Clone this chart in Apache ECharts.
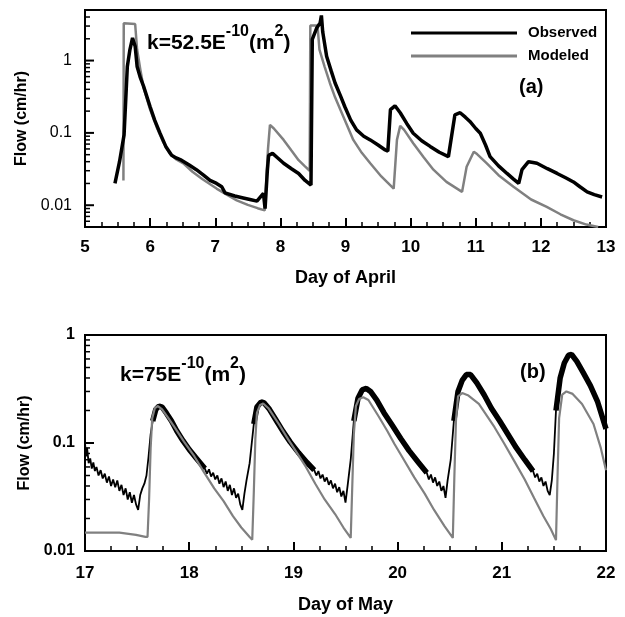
<!DOCTYPE html>
<html>
<head>
<meta charset="utf-8">
<script src="https://cdn.jsdelivr.net/npm/echarts@6/dist/echarts.min.js"></script>
<style>
  html, body { margin: 0; padding: 0; background: #fff; }
  #chart { width: 625px; height: 617px; }
</style>
</head>
<body>
<div id="chart"></div>
<script>
// panel (a): April, [day, flow cm/hr]
var obsA = [
  [5.46, 0.020], [5.53, 0.040], [5.60, 0.094], [5.65, 0.83], [5.69, 1.42], [5.73, 2.05],
  [5.77, 1.58], [5.80, 0.83], [5.85, 0.58], [5.90, 0.44], [6.00, 0.23], [6.07, 0.15],
  [6.15, 0.10], [6.24, 0.065], [6.33, 0.049], [6.40, 0.045], [6.48, 0.042], [6.60, 0.036],
  [6.71, 0.031], [6.82, 0.026], [6.92, 0.022], [7.02, 0.020], [7.10, 0.018], [7.15, 0.0148],
  [7.30, 0.0134], [7.43, 0.0126], [7.55, 0.0119], [7.64, 0.0114], [7.74, 0.0146], [7.765, 0.0090],
  [7.80, 0.030], [7.82, 0.049], [7.88, 0.052], [7.96, 0.045], [8.05, 0.038], [8.17, 0.032],
  [8.28, 0.0275], [8.38, 0.022], [8.47, 0.019], [8.49, 1.96], [8.56, 2.85], [8.61, 3.3],
  [8.63, 4.2], [8.65, 2.5], [8.71, 1.15], [8.78, 0.72], [8.84, 0.49], [8.92, 0.33],
  [8.99, 0.23], [9.08, 0.15], [9.17, 0.11], [9.28, 0.09], [9.38, 0.08], [9.50, 0.068],
  [9.61, 0.058], [9.65, 0.056], [9.69, 0.21], [9.76, 0.237], [9.84, 0.19], [9.94, 0.135],
  [10.04, 0.099], [10.17, 0.078], [10.30, 0.065], [10.44, 0.054], [10.58, 0.047], [10.61, 0.045],
  [10.68, 0.178], [10.76, 0.19], [10.84, 0.165], [10.91, 0.144], [11.00, 0.115], [11.07, 0.099],
  [11.15, 0.068], [11.22, 0.047], [11.35, 0.035], [11.48, 0.0275], [11.58, 0.023], [11.66, 0.020],
  [11.71, 0.031], [11.81, 0.040], [11.88, 0.039], [11.94, 0.038], [12.10, 0.032], [12.25, 0.0275],
  [12.38, 0.024], [12.50, 0.021], [12.60, 0.018], [12.71, 0.0153], [12.82, 0.014], [12.94, 0.013]
];
var modA = [
  [5.59, 0.022], [5.595, 3.27], [5.77, 3.2], [5.80, 1.42], [5.85, 0.75], [5.90, 0.42],
  [6.00, 0.21], [6.10, 0.12], [6.20, 0.075], [6.30, 0.052], [6.40, 0.043], [6.51, 0.038],
  [6.65, 0.029], [6.80, 0.023], [7.02, 0.017], [7.15, 0.0145], [7.33, 0.0117], [7.50, 0.0101],
  [7.65, 0.0091], [7.76, 0.0085], [7.785, 0.0085], [7.81, 0.06], [7.84, 0.129], [7.90, 0.115],
  [8.05, 0.08], [8.17, 0.057], [8.28, 0.042], [8.37, 0.035], [8.45, 0.030], [8.46, 3.06],
  [8.57, 3.06], [8.60, 1.42], [8.68, 0.82], [8.76, 0.49], [8.84, 0.31], [8.92, 0.21],
  [9.02, 0.13], [9.12, 0.08], [9.25, 0.053], [9.38, 0.038], [9.55, 0.025], [9.74, 0.017],
  [9.79, 0.08], [9.84, 0.125], [9.90, 0.11], [10.04, 0.072], [10.20, 0.046], [10.35, 0.031],
  [10.55, 0.021], [10.79, 0.0153], [10.86, 0.034], [10.97, 0.055], [11.02, 0.051], [11.17, 0.038],
  [11.35, 0.026], [11.58, 0.018], [11.85, 0.012], [12.09, 0.0095], [12.30, 0.0075], [12.50, 0.0062],
  [12.70, 0.0054], [12.88, 0.005]
];

// panel (b): May. observed = noisy troughs + thick band over each peak
var troughB0 = [
  [17.00, 0.10], [17.01, 0.075], [17.02, 0.09], [17.035, 0.065], [17.05, 0.072], [17.065, 0.058],
  [17.08, 0.066], [17.095, 0.055], [17.11, 0.06], [17.13, 0.05], [17.15, 0.056], [17.17, 0.047],
  [17.19, 0.052], [17.21, 0.043], [17.23, 0.049], [17.25, 0.04], [17.27, 0.046], [17.29, 0.039],
  [17.31, 0.045], [17.33, 0.036], [17.35, 0.041], [17.37, 0.033], [17.39, 0.038], [17.41, 0.03],
  [17.43, 0.035], [17.45, 0.028], [17.47, 0.033], [17.49, 0.027], [17.51, 0.024], [17.53, 0.033],
  [17.55, 0.038], [17.57, 0.042], [17.59, 0.05], [17.61, 0.075], [17.63, 0.12]
];
var bandB1 = [
  [17.65, 0.16], [17.68, 0.205], [17.71, 0.22], [17.74, 0.215], [17.78, 0.19], [17.83, 0.16],
  [17.88, 0.13], [17.94, 0.105], [18.00, 0.087], [18.07, 0.072], [18.15, 0.058]
];
var troughB1 = [
  [18.17, 0.052], [18.19, 0.057], [18.21, 0.049], [18.23, 0.053], [18.25, 0.046], [18.27, 0.05],
  [18.29, 0.042], [18.31, 0.047], [18.33, 0.039], [18.35, 0.044], [18.37, 0.036], [18.39, 0.041],
  [18.41, 0.033], [18.43, 0.038], [18.45, 0.031], [18.47, 0.034], [18.49, 0.027], [18.51, 0.024],
  [18.53, 0.034], [18.55, 0.045], [18.58, 0.065], [18.605, 0.11]
];
var bandB2 = [
  [18.62, 0.15], [18.65, 0.215], [18.69, 0.24], [18.72, 0.235], [18.77, 0.205], [18.83, 0.165],
  [18.90, 0.128], [18.97, 0.102], [19.05, 0.081], [19.13, 0.066], [19.20, 0.056]
];
var troughB2 = [
  [19.22, 0.05], [19.24, 0.055], [19.26, 0.047], [19.28, 0.051], [19.30, 0.044], [19.32, 0.048],
  [19.34, 0.041], [19.36, 0.045], [19.38, 0.038], [19.40, 0.042], [19.42, 0.035], [19.44, 0.039],
  [19.46, 0.032], [19.48, 0.036], [19.50, 0.028], [19.52, 0.04], [19.55, 0.07]
];
var bandB3 = [
  [19.58, 0.16], [19.62, 0.26], [19.66, 0.31], [19.70, 0.32], [19.74, 0.30], [19.80, 0.25],
  [19.87, 0.19], [19.95, 0.145], [20.03, 0.11], [20.11, 0.085], [20.20, 0.066], [20.28, 0.053]
];
var troughB3 = [
  [20.30, 0.046], [20.32, 0.051], [20.34, 0.043], [20.36, 0.048], [20.38, 0.040], [20.40, 0.044],
  [20.42, 0.036], [20.44, 0.040], [20.46, 0.031], [20.48, 0.045], [20.51, 0.07]
];
var bandB4 = [
  [20.54, 0.16], [20.58, 0.30], [20.62, 0.38], [20.66, 0.43], [20.70, 0.43], [20.76, 0.36],
  [20.83, 0.28], [20.90, 0.21], [20.98, 0.16], [21.06, 0.12], [21.14, 0.09], [21.22, 0.07],
  [21.30, 0.055]
];
var troughB4 = [
  [21.32, 0.048], [21.34, 0.052], [21.36, 0.044], [21.38, 0.048], [21.40, 0.040], [21.42, 0.044],
  [21.44, 0.036], [21.46, 0.033], [21.48, 0.045], [21.50, 0.08]
];
var bandB5 = [
  [21.52, 0.20], [21.56, 0.40], [21.60, 0.55], [21.64, 0.65], [21.67, 0.66], [21.72, 0.57],
  [21.78, 0.45], [21.85, 0.34], [21.92, 0.24], [22.00, 0.135]
];
var modB = [
  [17.00, 0.0148], [17.33, 0.0148], [17.49, 0.0141], [17.58, 0.0135], [17.60, 0.0135], [17.615, 0.03],
  [17.63, 0.09], [17.645, 0.17], [17.67, 0.21], [17.70, 0.22], [17.74, 0.205], [17.80, 0.17],
  [17.87, 0.135], [17.95, 0.103], [18.05, 0.075], [18.14, 0.054], [18.24, 0.038], [18.33, 0.029],
  [18.42, 0.021], [18.50, 0.0165], [18.58, 0.0135], [18.605, 0.0127], [18.62, 0.035], [18.635, 0.11],
  [18.65, 0.19], [18.68, 0.225], [18.71, 0.232], [18.76, 0.21], [18.86, 0.15], [18.95, 0.108],
  [19.02, 0.085], [19.12, 0.06], [19.21, 0.042], [19.30, 0.030], [19.40, 0.022], [19.48, 0.0165],
  [19.55, 0.0132], [19.565, 0.04], [19.58, 0.12], [19.60, 0.22], [19.63, 0.255], [19.67, 0.265],
  [19.72, 0.25], [19.82, 0.175], [19.90, 0.13], [19.97, 0.098], [20.06, 0.07], [20.16, 0.048],
  [20.26, 0.034], [20.35, 0.024], [20.45, 0.017], [20.53, 0.0132], [20.545, 0.05], [20.56, 0.16],
  [20.58, 0.27], [20.62, 0.29], [20.68, 0.275], [20.78, 0.23], [20.93, 0.14], [21.02, 0.10],
  [21.12, 0.068], [21.22, 0.046], [21.31, 0.031], [21.40, 0.021], [21.47, 0.016], [21.52, 0.0126],
  [21.535, 0.05], [21.55, 0.17], [21.58, 0.28], [21.62, 0.30], [21.68, 0.285], [21.77, 0.23],
  [21.88, 0.15], [21.95, 0.09], [22.00, 0.056]
];

// log axis ticks (flow values)
var majorA = [0.01, 0.1, 1];
var minorA = [0.006, 0.007, 0.008, 0.009, 0.02, 0.03, 0.04, 0.05, 0.06, 0.07, 0.08, 0.09,
  0.2, 0.3, 0.4, 0.5, 0.6, 0.7, 0.8, 0.9, 2, 3, 4];
var majorB = [0.01, 0.1, 1];
var minorB = [0.02, 0.03, 0.04, 0.05, 0.06, 0.07, 0.08, 0.09, 0.2, 0.3, 0.4, 0.5, 0.6, 0.7, 0.8, 0.9];

var FONT = '"Liberation Sans", Arial, sans-serif';
var GREY = '#808080';

var chart = echarts.init(document.getElementById('chart'));

// y axes are linear in log10(flow); labels turn back into flow
function lg(v) { return Math.log10(v); }
function toLog(pts) { return pts.map(function (p) { return [p[0], lg(p[1])]; }); }

function xAxisOf(grid, min, max, name, gap, margin) {
  return {
    type: 'value', gridIndex: grid, min: min, max: max, interval: 1,
    name: name, nameLocation: 'middle', nameGap: gap,
    nameTextStyle: { fontFamily: FONT, fontWeight: 'bold', fontSize: 18, color: '#000' },
    axisLine: { show: true, onZero: false, lineStyle: { color: '#000', width: 2 } },
    axisTick: { show: true, inside: true, length: 9, lineStyle: { color: '#000', width: 2 } },
    minorTick: { show: true, splitNumber: 4, length: 5, lineStyle: { color: '#000', width: 1.5 } },
    axisLabel: { fontFamily: FONT, fontWeight: 'bold', fontSize: 17, color: '#000', margin: margin },
    splitLine: { show: false }
  };
}

function yMain(grid, min, max, ticks, weight, margin) {
  var t = ticks.map(lg);
  return {
    type: 'value', gridIndex: grid, min: lg(min), max: lg(max), position: 'left',
    name: 'Flow (cm/hr)', nameLocation: 'middle', nameGap: 52,
    nameTextStyle: { fontFamily: FONT, fontWeight: 'bold', fontSize: 16, color: '#000' },
    axisLine: { show: true, onZero: false, lineStyle: { color: '#000', width: 2 } },
    axisTick: { show: false },
    axisLabel: {
      customValues: t, fontFamily: FONT, fontWeight: weight, fontSize: 16, color: '#000', margin: margin,
      formatter: function (v) { return String(+Math.pow(10, v).toPrecision(6)); }
    },
    splitLine: { show: false }
  };
}

// y tick marks: short strokes at each tick value, placed through the axes
function tickSeries(xi, yi, xMin, ticks, len, width) {
  return {
    type: 'custom', name: 'ticks', xAxisIndex: xi, yAxisIndex: yi, silent: true, z: 5, clip: false,
    data: ticks.map(function (v) { return [xMin, lg(v)]; }),
    renderItem: function (params, api) {
      var p = api.coord([api.value(0), api.value(1)]);
      return {
        type: 'line',
        shape: { x1: p[0], y1: p[1], x2: p[0] + len, y2: p[1] },
        style: { stroke: '#000', lineWidth: width }
      };
    }
  };
}

function line(name, data, xi, yi, color, width, z) {
  return {
    name: name, type: 'line', xAxisIndex: xi, yAxisIndex: yi, data: toLog(data),
    showSymbol: false, z: z,
    lineStyle: { color: color, width: width },
    itemStyle: { color: color }
  };
}

var obsB = [].concat(troughB0, bandB1, troughB1, bandB2, troughB2, bandB3, troughB3, bandB4, troughB4, bandB5);
var bands = [bandB1, bandB2, bandB3, bandB4, bandB5];

var series = [
  line('Modeled', modA, 0, 0, GREY, 2.5, 2),
  line('Observed', obsA, 0, 0, '#000', 3.5, 3),
  line('Observed', obsB, 1, 1, '#000', 1.8, 2)
];
bands.forEach(function (b) {
  series.push(line('Observed', b, 1, 1, '#000', 5.5, 2));
});
series.push(line('Modeled', modB, 1, 1, GREY, 2.2, 4));
series.push(tickSeries(0, 0, 5, majorA, 9, 2));
series.push(tickSeries(0, 0, 5, minorA, 5, 1.5));
series.push(tickSeries(1, 1, 17, majorB, 9, 2));
series.push(tickSeries(1, 1, 17, minorB, 5, 1.5));

function kLabel(x, y, main) {
  return {
    type: 'text', x: x, y: y,
    style: {
      text: '{m|' + main + '}{s|-10}{m|(m}{s|2}{m|)}',
      verticalAlign: 'middle', align: 'left',
      rich: {
        m: { fontFamily: FONT, fontWeight: 'bold', fontSize: 21, lineHeight: 30, verticalAlign: 'bottom', fill: '#000' },
        s: { fontFamily: FONT, fontWeight: 'bold', fontSize: 16, lineHeight: 15, verticalAlign: 'top', fill: '#000' }
      }
    }
  };
}

function tag(x, y, txt) {
  return {
    type: 'text', x: x, y: y,
    style: { text: txt, fontFamily: FONT, fontWeight: 'bold', fontSize: 20, fill: '#000', verticalAlign: 'middle', align: 'left' }
  };
}

var option = {
  animation: false,
  grid: [
    { left: 85, top: 10, width: 521, height: 217, show: true, borderColor: '#000', borderWidth: 2 },
    { left: 85, top: 335, width: 521, height: 216, show: true, borderColor: '#000', borderWidth: 2 }
  ],
  xAxis: [
    xAxisOf(0, 5, 13, 'Day of April', 42, 12),
    xAxisOf(1, 17, 22, 'Day of May', 45, 14)
  ],
  yAxis: [
    yMain(0, 0.005, 5, majorA, 'normal', 13),
    yMain(1, 0.01, 1, majorB, 'bold', 10)
  ],
  legend: {
    data: ['Observed', 'Modeled'], orient: 'vertical', left: 406, top: 20,
    icon: 'rect', itemWidth: 106, itemHeight: 3, itemGap: 7, selectedMode: false,
    textStyle: { fontFamily: FONT, fontWeight: 'bold', fontSize: 15, lineHeight: 16, color: '#000', padding: [0, 0, 0, 6] }
  },
  graphic: [
    kLabel(147, 39, 'k=52.5E'),
    kLabel(120, 371, 'k=75E'),
    tag(519, 87, '(a)'),
    tag(520, 372, '(b)')
  ],
  series: series
};

chart.setOption(option);
</script>
</body>
</html>
